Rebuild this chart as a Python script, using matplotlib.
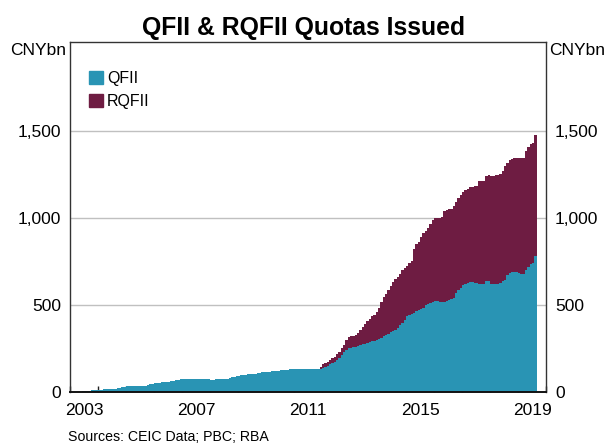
import numpy as np
import matplotlib
matplotlib.use("Agg")
import matplotlib.pyplot as plt
from matplotlib.patches import Patch

# monthly quotas issued, CNY bn, Jun 2003 to Aug 2019
start_year, start_month = 2003, 6
qfii = [3, 4, 6, 8, 10, 12, 13,                                              # 2003 (Jun-Dec)
        13, 14, 15, 15, 15, 16, 17, 20, 23, 25, 27, 28,                      # 2004
        32, 33, 34, 35, 35, 35, 35, 36, 36, 42, 45, 47,                      # 2005
        49, 50, 52, 55, 56, 57, 60, 62, 65, 68, 70, 74,                      # 2006
        77, 77, 76, 76, 76, 76, 76, 75, 74, 73, 72, 72,                      # 2007
        71, 71, 72, 74, 75, 75, 75, 76, 80, 85, 89, 91,                      # 2008
        94, 96, 98, 100, 101, 103, 104, 106, 108, 110, 112, 113,             # 2009
        115, 117, 118, 119, 121, 122, 124, 126, 127, 129, 130, 131,          # 2010
        132, 132, 132, 131, 131, 131, 131, 131, 131, 131, 131, 134,          # 2011
        135, 142, 150, 158, 166, 174, 184, 196, 212, 228, 242, 250,          # 2012
        254, 256, 259, 263, 269, 275, 278, 284, 288, 292, 295, 301,          # 2013
        307, 312, 320, 326, 331, 343, 350, 358, 367, 383, 396, 411,          # 2014
        435, 443, 449, 456, 464, 471, 477, 485, 498, 504, 510, 517,          # 2015
        524, 521, 519, 519, 519, 523, 528, 534, 538, 566, 585, 599,          # 2016
        614, 623, 627, 629, 629, 627, 625, 623, 618, 623, 637, 637,          # 2017
        623, 623, 622, 620, 627, 637, 646, 671, 681, 688, 692, 690,          # 2018
        681, 679, 677, 703, 715, 734, 743, 779]                              # 2019 (Jan-Aug)
# RQFII: nothing before Dec 2011
rqfii = [0] * 7 + [0] * 12 * 7 + [0] * 11 + [11] + \
        [24, 27, 24, 26, 27, 29, 34, 35, 38, 41, 55, 66,                     # 2012
         68, 68, 71, 76, 89, 98, 114, 123, 132, 142, 148, 157,               # 2013
         176, 203, 224, 237, 254, 267, 279, 290, 294, 293, 303, 299,         # 2014
         288, 297, 303, 367, 384, 390, 413, 427, 424, 439, 456, 473,         # 2015
         474, 477, 479, 485, 519, 523, 523, 517, 532, 523, 529, 534,         # 2016
         532, 537, 538, 546, 550, 554, 559, 586, 595, 590, 604, 610,         # 2017
         618, 618, 623, 627, 624, 633, 652, 646, 650, 652, 652, 656,         # 2018
         663, 663, 669, 681, 692, 688, 688, 696]                             # 2019
year_labels = [2003, 2007, 2011, 2015, 2019]
ytick_vals = [0, 500, 1000, 1500]
ytick_labels = ["0", "500", "1,000", "1,500"]

teal = "#2994b4"
maroon = "#6e1c42"

plt.rcParams["font.family"] = ["Liberation Sans", "DejaVu Sans"]

# month start positions in decimal years
n = len(qfii)
x = start_year + (start_month - 1) / 12 + np.arange(n) / 12
w = 1 / 12

fig = plt.figure(figsize=(6.08, 4.43), dpi=100)
ax = fig.add_axes([70 / 608, 1 - 392 / 443, 476 / 608, 350 / 443])

ax.bar(x, qfii, width=w * 0.96, align="edge", color=teal, linewidth=0, zorder=2)
ax.bar(x, rqfii, width=w * 0.96, bottom=qfii, align="edge", color=maroon, linewidth=0, zorder=2)

ax.set_xlim(2003, 2020)
ax.set_ylim(0, 2010)

# gridlines
for v in ytick_vals[1:]:
    ax.axhline(v, color="#c0c0c0", linewidth=1, zorder=1)

ax.set_yticks(ytick_vals)
ax.set_yticklabels(ytick_labels)
ax.tick_params(axis="y", left=False, right=False, labelleft=True, labelright=True,
               labelsize=12.5, pad=3)

# year ticks at each January, labels in the middle of the year
ax.set_xticks(np.arange(2003, 2021))
ax.set_xticklabels([])
ax.tick_params(axis="x", which="major", direction="in", length=4.5, width=1, color="#222222")
ax.set_xticks([y + 0.5 for y in year_labels], minor=True)
ax.set_xticklabels([str(y) for y in year_labels], minor=True)
ax.tick_params(axis="x", which="minor", length=0, labelsize=12.5, pad=8)

for s in ["left", "right", "top"]:
    ax.spines[s].set_color("#333333")
    ax.spines[s].set_linewidth(1)
ax.spines["bottom"].set_color("#111111")
ax.spines["bottom"].set_linewidth(1.4)
ax.spines["bottom"].set_zorder(3)

ax.text(-0.008, 0.975, "CNYbn", transform=ax.transAxes, ha="right", va="center", fontsize=12.5)
ax.text(1.006, 0.975, "CNYbn", transform=ax.transAxes, ha="left", va="center", fontsize=12.5)

fig.text(0.5, 1 - 35 / 443, "QFII & RQFII Quotas Issued", ha="center", va="baseline",
         fontsize=17.8, fontweight="bold")

handles = [Patch(color=teal, label="QFII"), Patch(color=maroon, label="RQFII")]
ax.legend(handles=handles, loc="upper left", bbox_to_anchor=(0.04, 0.918), frameon=False,
          fontsize=11.5, handlelength=0.875, handleheight=0.875, handletextpad=0.25,
          labelspacing=0.5, borderaxespad=0.0, borderpad=0.0)

fig.text(68 / 608, 1 - 441 / 443, "Sources: CEIC Data; PBC; RBA", ha="left", va="baseline", fontsize=10.2)

fig.savefig("out.png", dpi=100)
